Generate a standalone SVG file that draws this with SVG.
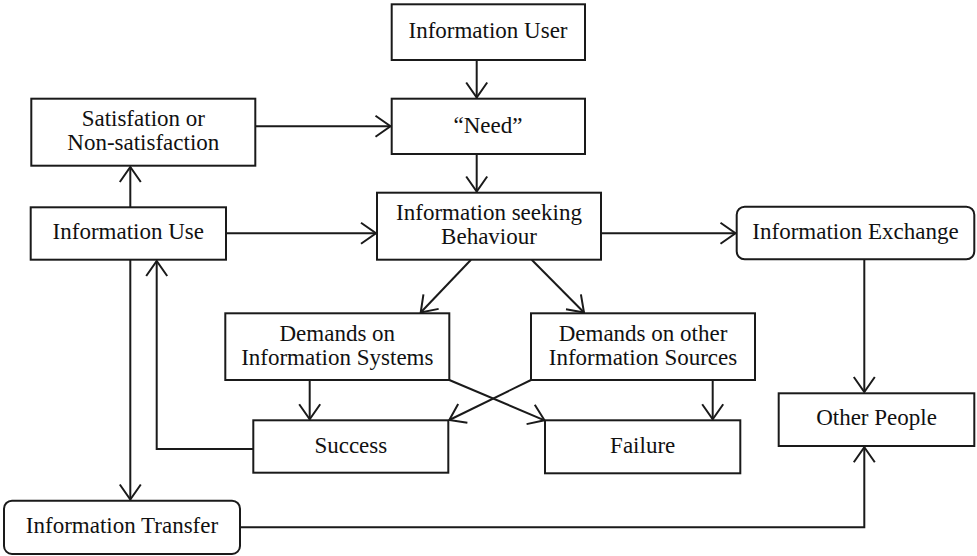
<svg xmlns="http://www.w3.org/2000/svg" width="977" height="556" viewBox="0 0 977 556">
<style>
.box{fill:#fff;stroke:#1a1a1a;stroke-width:2}
.t{font-family:"Liberation Serif","Times New Roman",serif;font-size:23px;fill:#111;text-anchor:middle}
.t2{font-family:"Liberation Serif","Times New Roman",serif;font-size:22px;fill:#111;text-anchor:middle}
.c{fill:none;stroke:#1a1a1a;stroke-width:2}
</style>
<defs>
<marker id="ah" markerUnits="userSpaceOnUse" markerWidth="20" markerHeight="24" viewBox="-17 -12 19 24" refX="0" refY="0" orient="auto">
<path d="M-15,-10.5 L0,0 L-15,10.5" fill="none" stroke="#1a1a1a" stroke-width="2"/>
</marker>
</defs>
<rect width="977" height="556" fill="#fff"/>
<g id="connectors">
<line class="c" x1="476.7" y1="60" x2="476.7" y2="97.5" marker-end="url(#ah)"/>
<line class="c" x1="476.7" y1="154" x2="476.7" y2="191.5" marker-end="url(#ah)"/>
<line class="c" x1="255.3" y1="126.3" x2="390.5" y2="126.3" marker-end="url(#ah)"/>
<line class="c" x1="130.3" y1="207.3" x2="130.3" y2="167" marker-end="url(#ah)"/>
<line class="c" x1="226" y1="233.3" x2="376" y2="233.3" marker-end="url(#ah)"/>
<line class="c" x1="601" y1="233.3" x2="735.5" y2="233.3" marker-end="url(#ah)"/>
<line class="c" x1="864.3" y1="259.3" x2="864.3" y2="392" marker-end="url(#ah)"/>
<line class="c" x1="471" y1="259.7" x2="420.7" y2="312.5" marker-end="url(#ah)"/>
<line class="c" x1="531.7" y1="259.7" x2="584" y2="312.5" marker-end="url(#ah)"/>
<line class="c" x1="309.7" y1="380" x2="309.7" y2="419.2" marker-end="url(#ah)"/>
<line class="c" x1="712.7" y1="380" x2="712.7" y2="419.2" marker-end="url(#ah)"/>
<line class="c" x1="531" y1="380" x2="449.3" y2="420" marker-end="url(#ah)"/>
<line class="c" x1="449.3" y1="380" x2="544.5" y2="420.3" marker-end="url(#ah)"/>
<polyline class="c" points="253.3,449 156.7,449 156.7,261" marker-end="url(#ah)"/>
<line class="c" x1="130.3" y1="259.7" x2="130.3" y2="499.5" marker-end="url(#ah)"/>
<polyline class="c" points="240,527.3 864.3,527.3 864.3,447.2" marker-end="url(#ah)"/>
</g>
<g id="n-user"><rect class="box" x="391.7" y="4.3" width="193.3" height="55.7"/><text class="t" x="488" y="38">Information User</text></g>
<g id="n-need"><rect class="box" x="391.7" y="98.7" width="193.3" height="55.3"/><text class="t" x="488" y="132.7">“Need”</text></g>
<g id="n-sat"><rect class="box" x="31.3" y="98.7" width="224" height="67"/><text class="t" x="143.3" y="126"><tspan x="143.3">Satisfation or</tspan><tspan x="143.3" dy="24">Non-satisfaction</tspan></text></g>
<g id="n-use"><rect class="box" x="30.7" y="207.3" width="195.3" height="52.4"/><text class="t" x="128.3" y="239">Information Use</text></g>
<g id="n-isb"><rect class="box" x="377" y="192.7" width="224" height="67"/><text class="t" x="489" y="219.5"><tspan x="489">Information seeking</tspan><tspan x="489" dy="24">Behaviour</tspan></text></g>
<g id="n-exchange"><rect class="box" x="736.7" y="206.7" width="237.6" height="52.6" rx="8"/><text class="t" x="855.5" y="239.3">Information Exchange</text></g>
<g id="n-dis"><rect class="box" x="225.3" y="313.3" width="224" height="66.7"/><text class="t" x="337.3" y="341"><tspan x="337.3">Demands on</tspan><tspan x="337.3" dy="24">Information Systems</tspan></text></g>
<g id="n-dos"><rect class="box" x="531" y="313.3" width="224" height="66.7"/><text class="t" x="643" y="341"><tspan x="643">Demands on other</tspan><tspan x="643" dy="24">Information Sources</tspan></text></g>
<g id="n-success"><rect class="box" x="253.3" y="420.3" width="195" height="52.4"/><text class="t" x="350.8" y="452.7">Success</text></g>
<g id="n-failure"><rect class="box" x="545" y="420.3" width="195.3" height="53"/><text class="t" x="642.7" y="452.7">Failure</text></g>
<g id="n-other"><rect class="box" x="778.7" y="393.3" width="195.6" height="52.7"/><text class="t" x="876.5" y="425">Other People</text></g>
<g id="n-transfer"><rect class="box" x="4" y="500.7" width="236" height="53.3" rx="8"/><text class="t" x="122" y="533.3">Information Transfer</text></g>
</svg>
